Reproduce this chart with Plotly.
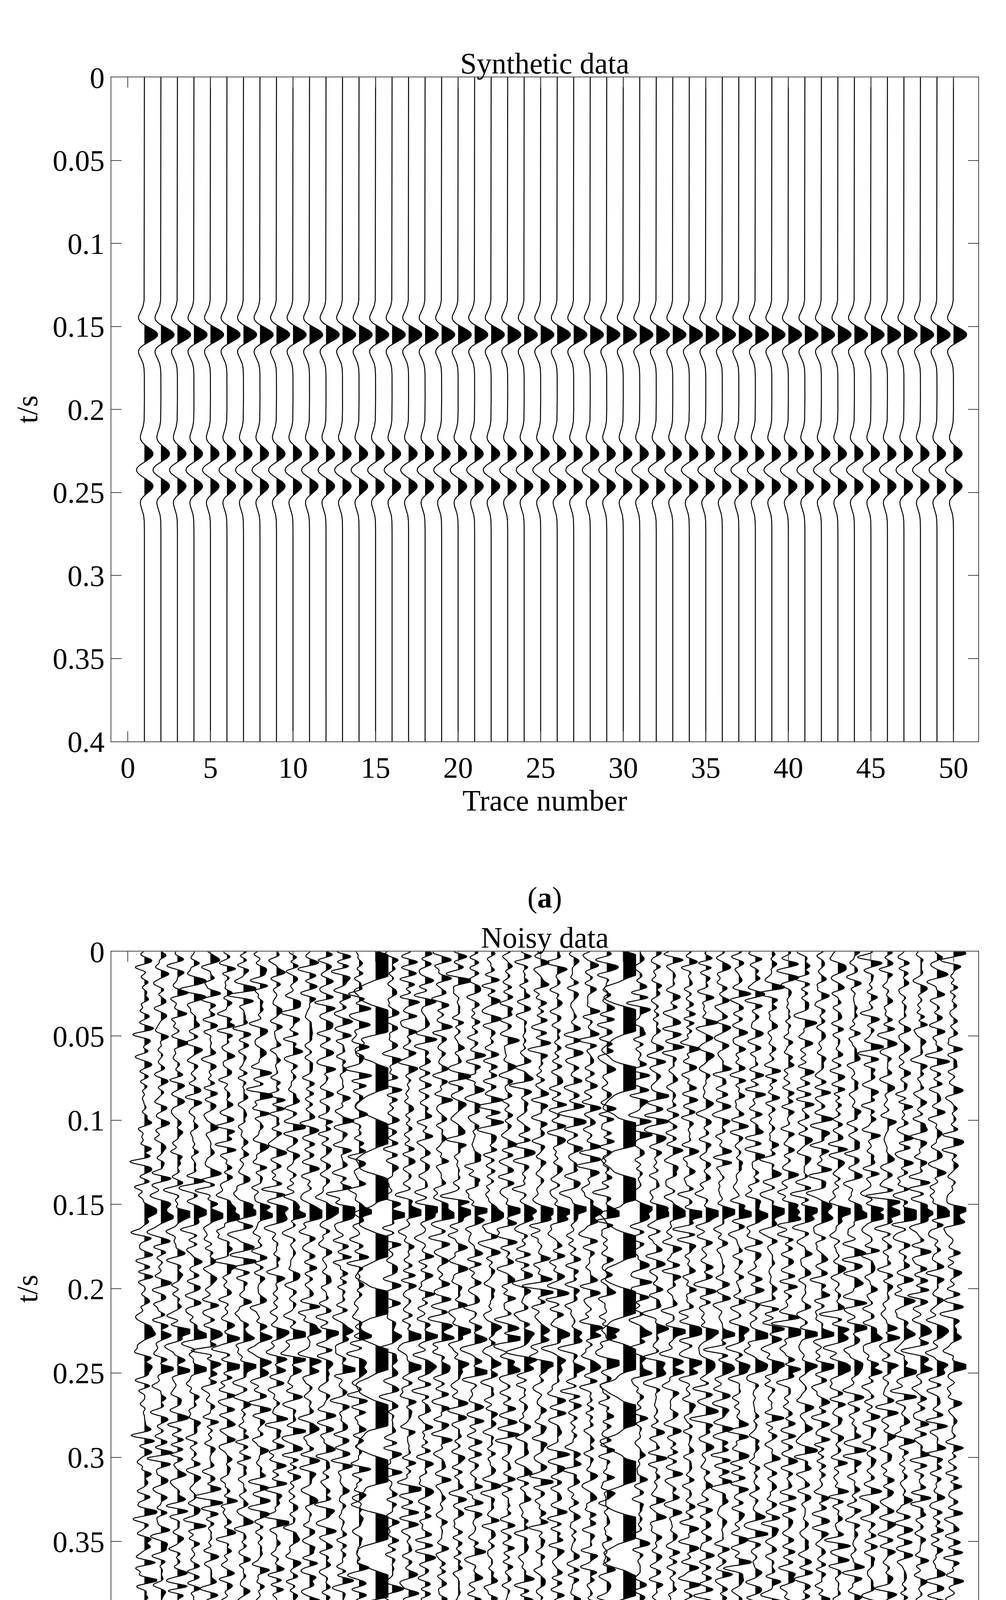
import numpy as np
import plotly.graph_objects as go

# time axis and trace positions
dt = 0.0005
t = np.arange(0, 0.4 + dt / 2, dt)
trace_no = list(range(1, 51))

# reflection events of the synthetic section (time s, relative amplitude)
event_times = [0.155, 0.227, 0.246]
event_amps = [0.8, 0.55, 0.55]
wavelet_freq = 38.0

# bad traces in the noisy section and the times of their periodic bursts
bad_traces = [15, 30]
burst_times = [0.008, 0.041, 0.075, 0.108, 0.141, 0.175, 0.208, 0.242, 0.275, 0.308, 0.342, 0.376]
noise_level = 0.27


def ricker(tt, f):
    a = (np.pi * f * tt) ** 2
    return (1 - 2 * a) * np.exp(-a)


synthetic = sum(a * ricker(t - t0, wavelet_freq) for t0, a in zip(event_times, event_amps))

# band-limited background noise (fixed seed so the page is reproducible)
rng = np.random.default_rng(7)
kern = ricker(np.arange(-0.015, 0.015 + dt / 2, dt), 110.0)
noisy = {}
for n in trace_no:
    nz = np.convolve(rng.standard_normal(t.size), kern, mode="same")
    nz = noise_level * nz / nz.std()
    w = nz + synthetic
    if n in bad_traces:
        burst = sum(np.exp(-((t - tb) / 0.009) ** 2) for tb in burst_times)
        w = 3.5 * burst - 1.4 + 0.4 * nz
    noisy[n] = np.clip(w, -1.4, 0.75)


def wiggle_traces(traces, xa, ya):
    lx, ly, fx, fy = [], [], [], []
    for n in trace_no:
        w = traces(n)
        lx += list(n + w) + [None]
        ly += list(t) + [None]
        fx += list(n + np.maximum(w, 0)) + [n, n, None]
        fy += list(t) + [t[-1], t[0], None]
    fill = go.Scatter(x=fx, y=fy, mode="none", fill="toself", fillcolor="black",
                      xaxis=xa, yaxis=ya, hoverinfo="skip", showlegend=False)
    line = go.Scatter(x=lx, y=ly, mode="lines", line=dict(color="black", width=2.5),
                      xaxis=xa, yaxis=ya, hoverinfo="skip", showlegend=False)
    return [fill, line]


fig = go.Figure()
fig.add_traces(wiggle_traces(lambda n: synthetic, "x", "y"))
fig.add_traces(wiggle_traces(lambda n: noisy[n], "x2", "y2"))

font = dict(family="Liberation Serif", size=76, color="black")
xax = dict(range=[-1, 51.5], tickvals=list(range(0, 51, 5)), ticks="inside", ticklen=26,
           tickwidth=2, tickcolor="#444", showline=True, linecolor="#444", linewidth=2,
           mirror="ticks", showgrid=False, zeroline=False, tickfont=font,
           domain=[0.1076, 0.9693])
yax = dict(range=[0.4, 0], tickvals=[i * 0.05 for i in range(9)],
           ticktext=["0", "0.05", "0.1", "0.15", "0.2", "0.25", "0.3", "0.35", "0.4"],
           ticks="inside", ticklen=26, tickwidth=2, tickcolor="#444", showline=True,
           linecolor="#444", linewidth=2, mirror="ticks", showgrid=False, zeroline=False,
           tickfont=font, title=dict(text="t/s", font=font, standoff=14))

fig.update_layout(
    width=2575, height=4558, margin=dict(l=0, r=0, t=0, b=0),
    plot_bgcolor="white", paper_bgcolor="white",
    xaxis=dict(xax, anchor="y", title=dict(text="Trace number", font=font, standoff=4)),
    yaxis=dict(yax, anchor="x", domain=[0.5867, 0.9667]),
    xaxis2=dict(xax, anchor="y2", title=dict(text="Trace number", font=font, standoff=4)),
    yaxis2=dict(yax, anchor="x2", domain=[0.0807, 0.4664]),
)

for txt, y in [("Synthetic data", 0.9667), ("Noisy data", 0.4664)]:
    fig.add_annotation(text=txt, x=0.5385, y=y, xref="paper", yref="paper",
                       xanchor="center", yanchor="bottom", yshift=-8, showarrow=False, font=font)
for txt, y in [("(<b>a</b>)", 0.4975), ("(<b>b</b>)", 0.0105)]:
    fig.add_annotation(text=txt, x=0.5385, y=y, xref="paper", yref="paper",
                       xanchor="center", yanchor="middle", showarrow=False, font=font)

fig.write_html("out.html")
